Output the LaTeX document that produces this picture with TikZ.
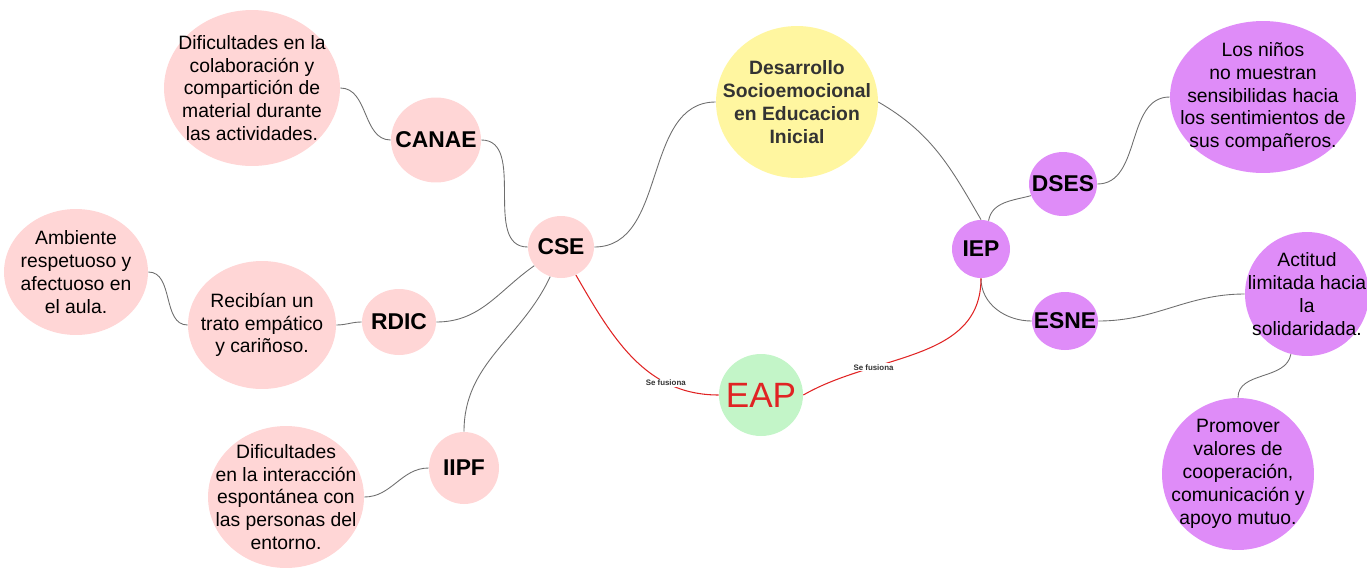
\documentclass[tikz,border=0pt]{standalone}
\usepackage{fontspec}
\setmainfont{Liberation Sans}
\usetikzlibrary{shapes.geometric, positioning}
\definecolor{bubblepink}{HTML}{FFD6D6}
\definecolor{bubbleyellow}{HTML}{FFF6A0}
\definecolor{bubblegreen}{HTML}{C3F5C8}
\definecolor{bubblepurple}{HTML}{DF8CF8}
\definecolor{linkgray}{HTML}{6E6E6E}
\definecolor{mergered}{HTML}{E02424}
\definecolor{textgray}{HTML}{333333}

\begin{document}
\begin{tikzpicture}[x=0.02cm, y=-0.02cm]
\tikzstyle{bubble} = [ellipse, inner sep=0pt]
\tikzstyle{bubbletext} = [align=center, inner sep=0pt, font=\fontsize{11}{13}\selectfont]
\tikzstyle{keytext} = [inner sep=0pt, font=\fontsize{13}{15}\selectfont\bfseries]
\tikzstyle{link} = [draw=linkgray, line width=0.5pt]
\tikzstyle{merge} = [draw=mergered, line width=0.6pt]
\tikzstyle{mergelabel} = [fill=white, inner sep=0.6pt, font=\fontsize{4.5}{5}\selectfont\bfseries, text=textgray]

\useasboundingbox (0,0) rectangle (1367,569);

\node (dev) [bubble, fill=bubbleyellow, minimum width=3.24cm, minimum height=3.04cm, label={[bubbletext, text=textgray, font=\fontsize{11}{13}\selectfont\bfseries]center:Desarrollo\\Socioemocional\\en Educacion\\Inicial}] at (797,102) {};

\node (cse) [bubble, fill=bubblepink, minimum width=1.32cm, minimum height=1.24cm, label={[keytext]center:CSE}] at (561,247) {};
\node (canae) [bubble, fill=bubblepink, minimum width=1.8cm, minimum height=1.7cm, label={[keytext]center:CANAE}] at (436,140) {};
\node (rdic) [bubble, fill=bubblepink, minimum width=1.48cm, minimum height=1.32cm, label={[keytext]center:RDIC}] at (399,322) {};
\node (iipf) [bubble, fill=bubblepink, minimum width=1.4cm, minimum height=1.44cm, label={[keytext]center:IIPF}] at (464,468) {};

\node (colab) [bubble, fill=bubblepink, minimum width=3.52cm, minimum height=3.12cm, label={[bubbletext]center:Dificultades en la\\colaboración y\\compartición de\\material durante\\las actividades.}] at (252,88) {};
\node (trato) [bubble, fill=bubblepink, minimum width=2.96cm, minimum height=2.56cm, label={[bubbletext]center:Recibían un\\trato empático\\y cariñoso.}] at (262,325) {};
\node (ambiente) [bubble, fill=bubblepink, minimum width=2.88cm, minimum height=2.52cm, label={[bubbletext]center:Ambiente\\respetuoso y\\afectuoso en\\el aula.}] at (76,272) {};
\node (interac) [bubble, fill=bubblepink, minimum width=3.12cm, minimum height=2.84cm, label={[bubbletext]center:Dificultades\\en la interacción\\espontánea con\\las personas del\\entorno.}] at (286,497) {};

\node (eap) [bubble, fill=bubblegreen, minimum width=1.68cm, minimum height=1.64cm, label={[inner sep=0pt, text=mergered, font=\fontsize{20}{22}\selectfont]center:EAP}] at (761,395) {};

\node (iep) [bubble, fill=bubblepurple, minimum width=1.16cm, minimum height=1.16cm, label={[keytext]center:IEP}] at (981,249) {};
\node (dses) [bubble, fill=bubblepurple, minimum width=1.36cm, minimum height=1.28cm, label={[keytext]center:DSES}] at (1063,184) {};
\node (esne) [bubble, fill=bubblepurple, minimum width=1.32cm, minimum height=1.16cm, label={[keytext]center:ESNE}] at (1065,321) {};
\node (ninos) [bubble, fill=bubblepurple, minimum width=3.72cm, minimum height=3.04cm, label={[bubbletext]center:Los niños\\no muestran\\sensibilidas hacia\\los sentimientos de\\sus compañeros.}] at (1263,97) {};
\node (actitud) [bubble, fill=bubblepurple, minimum width=2.48cm, minimum height=2.48cm, label={[bubbletext]center:Actitud\\limitada hacia\\la\\solidaridada.}] at (1307,294) {};
\node (promover) [bubble, fill=bubblepurple, minimum width=3.04cm, minimum height=3.04cm, label={[bubbletext]center:Promover\\valores de\\cooperación,\\comunicación y\\apoyo mutuo.}] at (1238,474) {};

\draw [link] (cse.east) to[out=0, in=180] (dev.west);
\draw [link] (canae.east) to[out=0, in=180] (cse.west);
\draw [link] (colab.east) to[out=0, in=180] (canae.west);
\draw [link] (cse.-145) to[out=215, in=0] (rdic.east);
\draw [link] (rdic.west) to[out=180, in=0] (trato.east);
\draw [link] (trato.west) to[out=180, in=0] (ambiente.east);
\draw [link] (cse.-110) to[out=-115, in=90] (iipf.north);
\draw [link] (iipf.west) to[out=180, in=0] (interac.east);

\draw [link] (dev.east) to[out=-30, in=120] (iep.north);
\draw [link] (iep.75) to[out=80, in=195] (dses.200);
\draw [link] (dses.east) to[out=0, in=180] (ninos.west);
\draw [link] (iep.south) to[out=-90, in=180] (esne.west);
\draw [link] (esne.east) to[out=0, in=180] (actitud.west);
\draw [link] (actitud.-105) to[out=-100, in=90] (promover.north);

\draw [merge] (cse.-62) to[out=-60, in=180] node[pos=0.72, mergelabel] {Se fusiona} (eap.west);
\draw [merge] (eap.east) to[out=30, in=-90] node[pos=0.3, mergelabel] {Se fusiona} (iep.south);

\end{tikzpicture}
\end{document}
